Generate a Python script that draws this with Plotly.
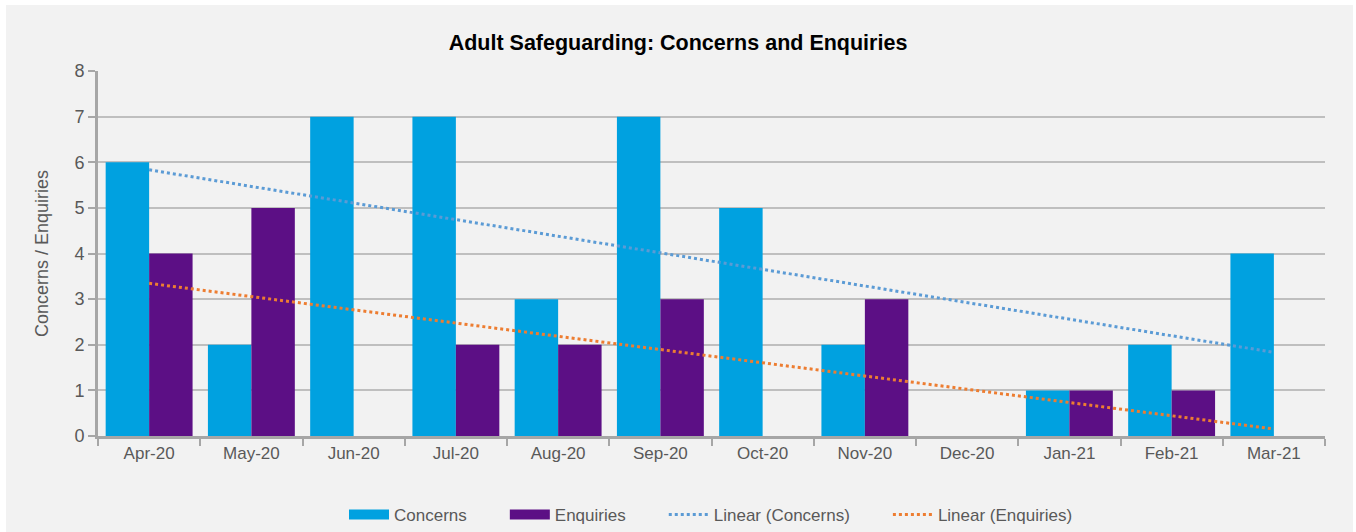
import numpy as np
import plotly.graph_objects as go

months = ["Apr-20", "May-20", "Jun-20", "Jul-20", "Aug-20", "Sep-20",
          "Oct-20", "Nov-20", "Dec-20", "Jan-21", "Feb-21", "Mar-21"]
concerns = [6, 2, 7, 7, 3, 7, 5, 2, 0, 1, 2, 4]
enquiries = [4, 5, 0, 2, 2, 3, 0, 3, 0, 1, 1, 0]

y_ticks = [0, 1, 2, 3, 4, 5, 6, 7, 8]

# Excel-style linear trendlines computed from the data
xi = np.arange(len(months))
c_fit = np.polyval(np.polyfit(xi, concerns, 1), xi)
e_fit = np.polyval(np.polyfit(xi, enquiries, 1), xi)

FONT = "Liberation Sans, Arial, sans-serif"
TXT = "#595959"
C_COL = "#00a1e0"
E_COL = "#5c0f85"
PAD = "\u00a0" * 7  # extra spacing between legend entries

fig = go.Figure()
fig.add_trace(go.Bar(x=months, y=concerns, name="Concerns", showlegend=False,
                     marker=dict(color=C_COL, line=dict(width=0))))
fig.add_trace(go.Bar(x=months, y=enquiries, name="Enquiries", showlegend=False,
                     marker=dict(color=E_COL, line=dict(width=0))))
# legend entries drawn as wide bars (Excel style)
fig.add_trace(go.Scatter(x=[None], y=[None], mode="lines", name="Concerns" + PAD,
                         line=dict(color=C_COL, width=10)))
fig.add_trace(go.Scatter(x=[None], y=[None], mode="lines", name="Enquiries" + PAD,
                         line=dict(color=E_COL, width=10)))
fig.add_trace(go.Scatter(x=months, y=c_fit, mode="lines", name="Linear (Concerns)" + PAD,
                         line=dict(color="#5b9bd5", width=3, dash="dot")))
fig.add_trace(go.Scatter(x=months, y=e_fit, mode="lines", name="Linear (Enquiries)",
                         line=dict(color="#ed7d31", width=3, dash="dot")))

# plot-area pixel geometry (for the light-grey chart frame)
L, R, T, B = 98, 1325, 71, 436
W, H = R - L, B - T
def px(p):
    return (p - L) / W
def py(p):
    return (B - p) / H

fig.add_shape(type="rect", xref="paper", yref="paper",
              x0=px(6), x1=px(1353), y0=py(532), y1=py(5),
              fillcolor="#f2f2f2", line=dict(width=0), layer="below")

fig.update_layout(
    width=1356, height=532,
    margin=dict(l=L, r=1356 - R, t=T, b=532 - B),
    paper_bgcolor="white",
    plot_bgcolor="rgba(0,0,0,0)",
    font=dict(family=FONT, size=16, color=TXT),
    title=dict(text="<b>Adult Safeguarding: Concerns and Enquiries</b>",
               x=0.5, xanchor="center", y=1 - 42 / 532, yanchor="middle",
               font=dict(family=FONT, size=21.5, color="black")),
    barmode="group", bargap=0.15, bargroupgap=0,
    showlegend=True,
    legend=dict(orientation="h", x=(711) / 1356, xanchor="center",
                xref="container", yref="container",
                y=1 - 515 / 532, yanchor="middle",
                font=dict(family=FONT, size=17, color=TXT),
                itemwidth=40, tracegroupgap=0,
                bgcolor="rgba(0,0,0,0)"),
    xaxis=dict(type="category", showline=True, linecolor="#a6a6a6", linewidth=3,
               ticks="outside", tickson="boundaries", ticklen=7, tickwidth=2,
               tickcolor="#a6a6a6", showgrid=False,
               tickfont=dict(family=FONT, size=17, color=TXT)),
    yaxis=dict(range=[0, 8], tickvals=y_ticks, showline=True, linecolor="#a6a6a6",
               linewidth=3, ticks="outside", ticklen=7, tickwidth=2,
               tickcolor="#a6a6a6", gridcolor="#bfbfbf", gridwidth=2,
               zeroline=False,
               tickfont=dict(family=FONT, size=18, color=TXT),
               title=dict(text="Concerns / Enquiries", standoff=22,
                          font=dict(family=FONT, size=18, color=TXT))),
)

fig.write_html("out.html", config={"displayModeBar": False},
               post_script="document.body.style.margin='0';document.body.style.overflow='hidden';")
